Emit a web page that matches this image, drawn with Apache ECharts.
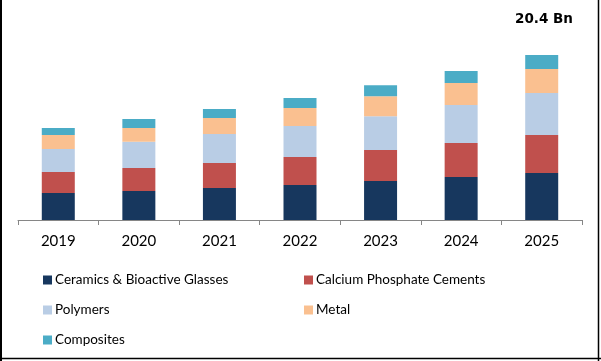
<!DOCTYPE html>
<html>
<head>
<meta charset="utf-8">
<script src="https://cdn.jsdelivr.net/npm/echarts@6/dist/echarts.min.js"></script>
<style>
html,body{margin:0;padding:0;background:#fff;}
#c{width:601px;height:361px;}
</style>
</head>
<body>
<div id="c"></div>
<script>
const years = ['2019','2020','2021','2022','2023','2024','2025'];
const ceramics = [3.34, 3.59, 3.96, 4.33, 4.82, 5.32, 5.81];
const calcium  = [2.60, 2.84, 3.09, 3.46, 3.83, 4.20, 4.70];
const polymers = [2.84, 3.25, 3.59, 3.83, 4.20, 4.70, 5.19];
const metal    = [1.73, 1.69, 1.98, 2.23, 2.47, 2.72, 2.97];
const composites = [0.87, 1.11, 1.11, 1.24, 1.36, 1.48, 1.73];
const seriesNames = ['Ceramics & Bioactive Glasses','Calcium Phosphate Cements','Polymers','Metal','Composites'];
const colors = ['#17375E','#C0504D','#B9CDE5','#FAC090','#4BACC6'];
const annotation = '20.4 Bn';

const chart = echarts.init(document.getElementById('c'));
const dataSets = [ceramics, calcium, polymers, metal, composites];
const font = 'Lato';
chart.setOption({
  animation:false,
  color: colors,
  title:{text:annotation, left:515, top:12, padding:0, textStyle:{fontFamily:'DejaVu Sans', fontSize:13.5, fontWeight:'bold', color:'#000'}},
  grid:{left:18, right:19, top:26, bottom:141},
  xAxis:{type:'category', data:years,
    axisLine:{lineStyle:{color:'#868686'}},
    axisTick:{show:true, lineStyle:{color:'#868686'}, length:5},
    axisLabel:{fontFamily:font, fontSize:15, color:'#000', margin:14}},
  yAxis:{type:'value', min:0, max:24, show:false, splitLine:{show:false}},
  legend:[
    {data:[seriesNames[0],seriesNames[2],seriesNames[4]], orient:'vertical', left:43, top:273, padding:0, itemGap:16, itemWidth:9, itemHeight:9, icon:'rect',
     textStyle:{fontFamily:font, fontSize:13.5, color:'#000', padding:[0,0,0,-2]}},
    {data:[seriesNames[1],seriesNames[3]], orient:'vertical', left:304, top:273, padding:0, itemGap:16, itemWidth:9, itemHeight:9, icon:'rect',
     textStyle:{fontFamily:font, fontSize:13.5, color:'#000', padding:[0,0,0,-2]}}
  ],
  series: seriesNames.map((n,i)=>({name:n, type:'bar', stack:'t', barWidth:33, data:dataSets[i], itemStyle:{color:colors[i]}})),
  graphic:[
    {type:'line', shape:{x1:1,y1:0,x2:1,y2:361}, style:{stroke:'#000', lineWidth:2}},
    {type:'line', shape:{x1:598.5,y1:0,x2:598.5,y2:361}, style:{stroke:'#000', lineWidth:1.5}},
    {type:'line', shape:{x1:0,y1:358.5,x2:601,y2:358.5}, style:{stroke:'#000', lineWidth:1.5}}
  ]
});
</script>
</body>
</html>
